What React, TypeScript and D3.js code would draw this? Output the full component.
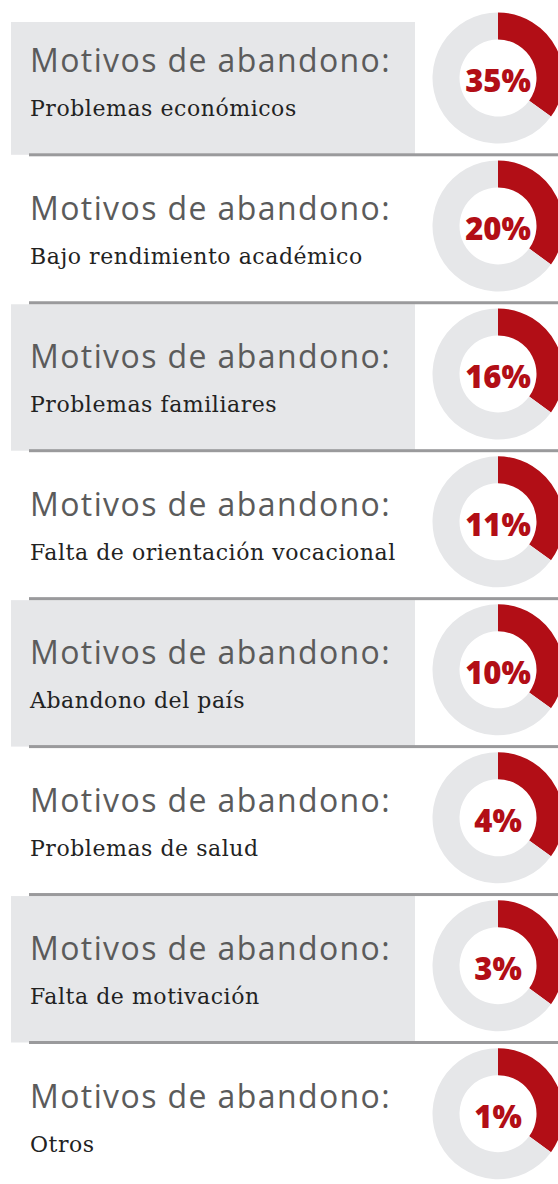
import React from "react";
import * as d3 from "d3";

const heading = "Motivos de abandono:";
const reasons = [
  "Problemas económicos",
  "Bajo rendimiento académico",
  "Problemas familiares",
  "Falta de orientación vocacional",
  "Abandono del país",
  "Problemas de salud",
  "Falta de motivación",
  "Otros",
];
const percentLabels = [35, 20, 16, 11, 10, 4, 3, 1];
// the red arc in the reference is drawn at the same size for every ring
const arcShare = [35, 35, 35, 35, 35, 35, 35, 35];

const W = 558;
const H = 1184;
const RED = "#b20e16";
const LIGHT = "#e6e7e9";

export default function App() {
  const rowStep = 147.95;
  const firstLine = 154.8;
  const firstCenter = 78;
  const cx = 498;
  const outerR = 65.5;
  const innerR = 38.5;

  const pie = d3
    .pie<number>()
    .sort(null)
    .value((d) => d);
  const arc = d3.arc<d3.PieArcDatum<number>>().innerRadius(innerR).outerRadius(outerR);

  const lineY = (i: number) => firstLine + rowStep * i;

  return (
    <div style={{ position: "absolute", left: 0, top: 0 }}>
      <svg width={W} height={H} style={{ display: "block" }}>
        <rect x={0} y={0} width={W} height={H} fill="#ffffff" />
        {reasons.map((r, i) => {
          const cy = firstCenter + rowStep * i;
          const top = i === 0 ? 22 : lineY(i - 1) + 1.5;
          const bottom = lineY(i);
          const slices = pie([arcShare[i], 100 - arcShare[i]]);
          return (
            <g key={r}>
              {i % 2 === 0 && (
                <rect x={11} y={top} width={404} height={bottom - top} fill={LIGHT} />
              )}
              <text
                x={30}
                y={cy - 6}
                fontFamily="'Open Sans', sans-serif"
                fontSize={32}
                letterSpacing={1.4}
                fill="#5b5b5b"
              >
                {heading}
              </text>
              <text
                x={30}
                y={cy + 38}
                fontFamily="'DejaVu Serif', serif"
                fontSize={22}
                letterSpacing={0.55}
                fill="#222222"
              >
                {r}
              </text>
              <g transform={`translate(${cx},${cy})`}>
                {slices.map((s, k) => (
                  <path key={k} d={arc(s) || ""} fill={k === 0 ? RED : LIGHT} />
                ))}
                <text
                  x={0}
                  y={14}
                  textAnchor="middle"
                  fontFamily="'Open Sans', sans-serif"
                  fontWeight={800}
                  fontSize={31}
                  fill={RED}
                >
                  {percentLabels[i]}%
                </text>
              </g>
            </g>
          );
        })}
        {d3.range(7).map((i) => (
          <rect key={i} x={29} y={lineY(i) - 1.5} width={W - 29} height={3} fill="#9a9a9c" />
        ))}
      </svg>
    </div>
  );
}
